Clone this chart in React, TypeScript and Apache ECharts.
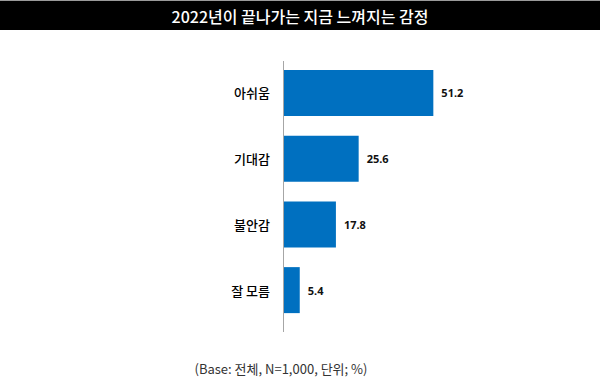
import React, { useEffect, useRef } from "react";
import * as echarts from "echarts";

const titleText = "2022년이 끝나가는 지금 느껴지는 감정";
const footnote = "(Base: 전체, N=1,000, 단위; %)";
const categories = ["아쉬움", "기대감", "불안감", "잘 모름"];
const values = [51.2, 25.6, 17.8, 5.4];

export default function App() {
  const ref = useRef<HTMLDivElement>(null);
  useEffect(() => {
    if (!ref.current) return;
    const chart = echarts.init(ref.current, null, { renderer: "svg" });
    chart.setOption({
      animation: false,
      backgroundColor: "#ffffff",
      grid: { left: 284, top: 60, width: 175, height: 263, containLabel: false },
      xAxis: {
        type: "value",
        min: 0,
        max: 60,
        show: false,
      },
      yAxis: {
        type: "category",
        data: categories,
        inverse: true,
        axisLine: { show: false },
        axisTick: { show: false },
        axisLabel: {
          margin: 14,
          color: "#000000",
          fontSize: 13,
          fontWeight: 500,
          fontFamily: "Noto Sans CJK KR",
        },
      },
      series: [
        {
          type: "bar",
          data: values,
          barWidth: 46,
          itemStyle: { color: "#0070C0" },
          label: {
            show: true,
            position: "right",
            distance: 8,
            color: "#111111",
            fontSize: 11,
            fontWeight: "bold",
            fontFamily: "Noto Sans",
            formatter: (p: any) => String(p.value),
          },
        },
      ],
      graphic: [
        { type: "rect", shape: { x: 0, y: 0, width: 600, height: 1 }, style: { fill: "#9a9a9a" } },
        { type: "rect", shape: { x: 0, y: 1, width: 600, height: 29 }, style: { fill: "#000000" } },
        {
          type: "text",
          x: 300,
          y: 16,
          style: {
            text: titleText,
            fill: "#ffffff",
            fontSize: 16,
            fontFamily: "Noto Sans CJK KR",
            fontWeight: 500,
            align: "center",
            verticalAlign: "middle",
          },
        },
        {
          type: "line",
          shape: { x1: 283.5, y1: 61, x2: 283.5, y2: 332 },
          style: { stroke: "#a6a6a6", lineWidth: 1 },
        },
        {
          type: "text",
          x: 281,
          y: 368,
          style: {
            text: footnote,
            fill: "#333333",
            fontSize: 13,
            fontFamily: "Noto Sans CJK KR",
            align: "center",
            verticalAlign: "middle",
          },
        },
      ],
    });
    return () => chart.dispose();
  }, []);
  return (
    <div
      ref={ref}
      style={{ position: "fixed", left: 0, top: 0, width: 600, height: 384, background: "#fff" }}
    />
  );
}
